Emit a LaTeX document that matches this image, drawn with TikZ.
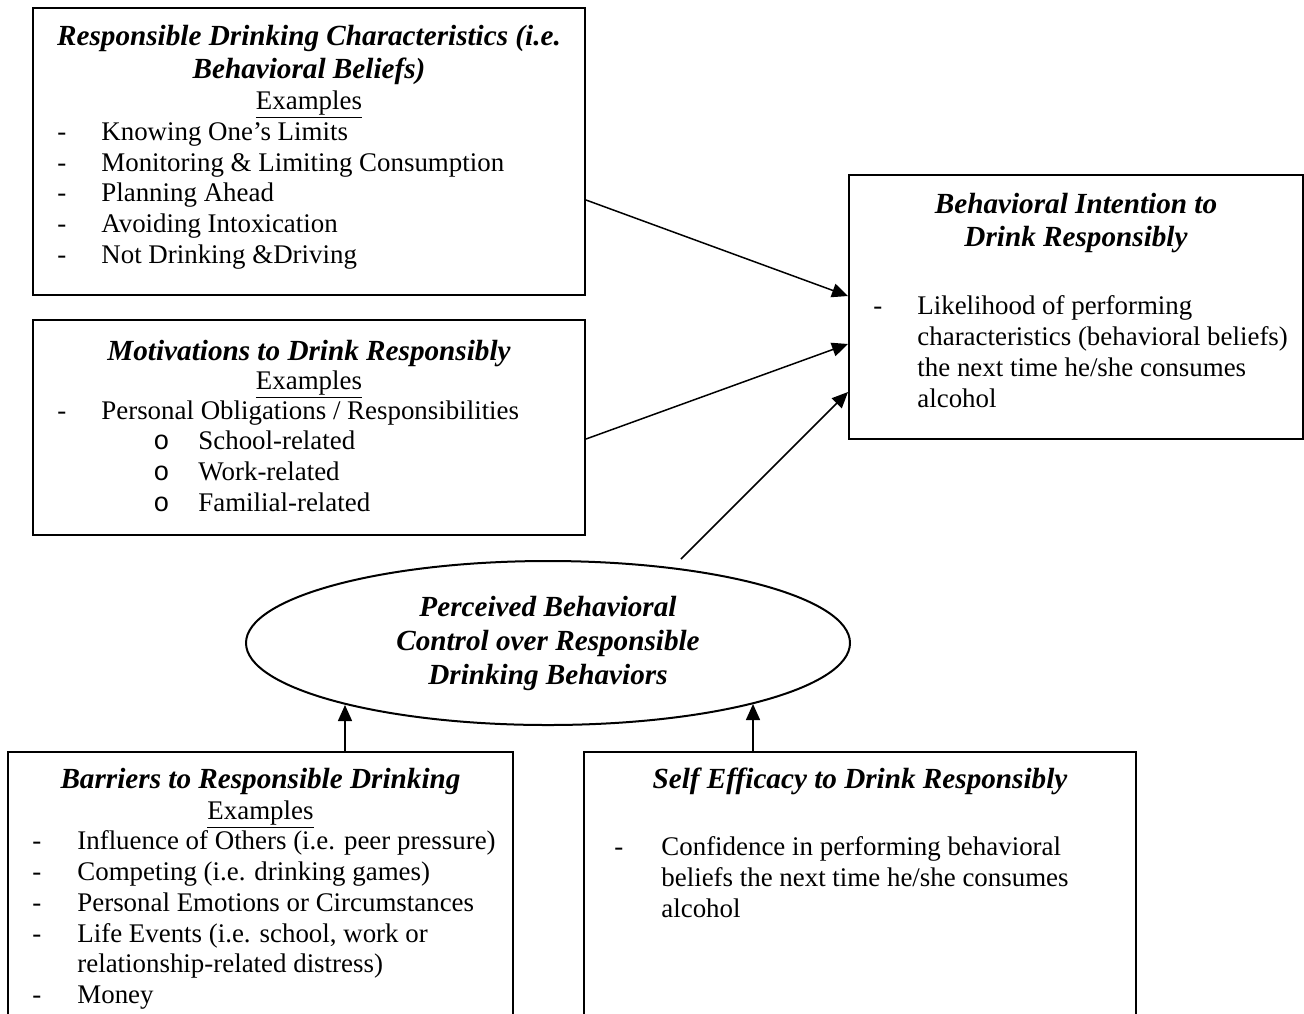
\documentclass[tikz,border=0pt]{standalone}
\usepackage{fontspec}
\setmainfont{Liberation Serif}
\newfontfamily\bulletfont{Liberation Mono}
\usetikzlibrary{shapes.geometric,arrows.meta,fit}
\newcommand\bodyfs{\fontsize{13.45pt}{15.4pt}\selectfont}
\newcommand\ttlfs{\fontsize{14.6pt}{16.8pt}\selectfont\bfseries\itshape}
\newcommand\ellfs{\fontsize{14.6pt}{17pt}\selectfont\bfseries\itshape}
\tikzset{
  boxs/.style={draw, line width=1pt, inner sep=0pt, rectangle},
  ttl/.style={font=\ttlfs, anchor=base, inner sep=0pt},
  txt/.style={font=\bodyfs, anchor=base west, inner sep=0pt},
  exm/.style={font=\bodyfs, anchor=base, inner sep=0pt},
  sub/.style={font=\bulletfont\fontsize{13.45pt}{15.4pt}\selectfont, anchor=base west, inner sep=0pt},
  arr/.style={line width=0.75pt, -{Triangle[length=8pt,width=7pt]}},
}
\begin{document}
\begin{tikzpicture}[x=0.5pt,y=-0.5pt]
\useasboundingbox (0,0) rectangle (1304,1013);
\clip (0,0) rectangle (1304,1013);
% boxes
\node[boxs, fit={(33,8) (585,295)}] (b1) {};
\node[boxs, fit={(33,320) (585,535)}] (b2) {};
\node[boxs, fit={(849,175) (1303,439)}] (b3) {};
\node[boxs, fit={(8,752) (513,1060)}] (b4) {};
\node[boxs, fit={(584,752) (1136,1060)}] (b5) {};
\node[ellipse, draw, line width=1pt, minimum width=302pt, minimum height=82pt, inner sep=0pt, align=center, font=\ellfs] (pbc) at (548,643) {Perceived Behavioral\\Control over Responsible\\Drinking Behaviors};

% box 1 text
\node[ttl] (b1t1) at (309,45) {Responsible Drinking Characteristics (i.e.};
\node[ttl] (b1t2) at (309,78) {Behavioral Beliefs)};
\node[exm] (b1ex) at (309,109) {\underline{Examples}};
\node[txt] (b1d1) at (57,140) {-};
\node[txt] (b1i1) at (101,140) {Knowing One’s Limits};
\node[txt] (b1d2) at (57,171) {-};
\node[txt] (b1i2) at (101,171) {Monitoring \& Limiting Consumption};
\node[txt] (b1d3) at (57,201) {-};
\node[txt] (b1i3) at (101,201) {Planning Ahead};
\node[txt] (b1d4) at (57,232) {-};
\node[txt] (b1i4) at (101,232) {Avoiding Intoxication};
\node[txt] (b1d5) at (57,263) {-};
\node[txt] (b1i5) at (101,263) {Not Drinking \&Driving};

% box 2 text
\node[ttl] (b2t1) at (309,360) {Motivations to Drink Responsibly};
\node[exm] (b2ex) at (309,389) {\underline{Examples}};
\node[txt] (b2d1) at (57,419) {-};
\node[txt] (b2i1) at (101,419) {Personal Obligations / Responsibilities};
\node[sub] (b2o1) at (153,449) {o};
\node[txt] (b2s1) at (198,449) {School-related};
\node[sub] (b2o2) at (153,480) {o};
\node[txt] (b2s2) at (198,480) {Work-related};
\node[sub] (b2o3) at (153,511) {o};
\node[txt] (b2s3) at (198,511) {Familial-related};

% box 3 text
\node[ttl] (b3t1) at (1076,213) {Behavioral Intention to};
\node[ttl] (b3t2) at (1076,246) {Drink Responsibly};
\node[txt] (b3d1) at (873,314) {-};
\node[txt] (b3l1) at (917,314) {Likelihood of performing};
\node[txt] (b3l2) at (917,345) {characteristics (behavioral beliefs)};
\node[txt] (b3l3) at (917,376) {the next time he/she consumes};
\node[txt] (b3l4) at (917,407) {alcohol};

% box 4 text
\node[ttl] (b4t1) at (260.5,788) {Barriers to Responsible Drinking};
\node[exm] (b4ex) at (260.5,819) {\underline{Examples}};
\node[txt] (b4d1) at (32,849) {-};
\node[txt] (b4i1) at (77,849) {Influence of Others (i.e. peer pressure)};
\node[txt] (b4d2) at (32,880) {-};
\node[txt] (b4i2) at (77,880) {Competing (i.e. drinking games)};
\node[txt] (b4d3) at (32,911) {-};
\node[txt] (b4i3) at (77,911) {Personal Emotions or Circumstances};
\node[txt] (b4d4) at (32,942) {-};
\node[txt] (b4i4) at (77,942) {Life Events (i.e. school, work or};
\node[txt] (b4i4b) at (77,972) {relationship-related distress)};
\node[txt] (b4d5) at (32,1003) {-};
\node[txt] (b4i5) at (77,1003) {Money};

% box 5 text
\node[ttl] (b5t1) at (860,788) {Self Efficacy to Drink Responsibly};
\node[txt] (b5d1) at (614,855) {-};
\node[txt] (b5l1) at (661,855) {Confidence in performing behavioral};
\node[txt] (b5l2) at (661,886) {beliefs the next time he/she consumes};
\node[txt] (b5l3) at (661,917) {alcohol};

% connectors
\coordinate (a3s) at (681,559);
\coordinate (e4) at (345,705);
\coordinate (e5) at (753,704);
\draw[arr] (b1.east |- 0,200) -- (b3.west |- 0,296);
\draw[arr] (b2.east |- 0,439) -- (b3.west |- 0,344);
\draw[arr] (a3s) -- (b3.west |- 0,392);
\draw[arr] (b4.north -| e4) -- (e4);
\draw[arr] (b5.north -| e5) -- (e5);
\end{tikzpicture}
\end{document}
